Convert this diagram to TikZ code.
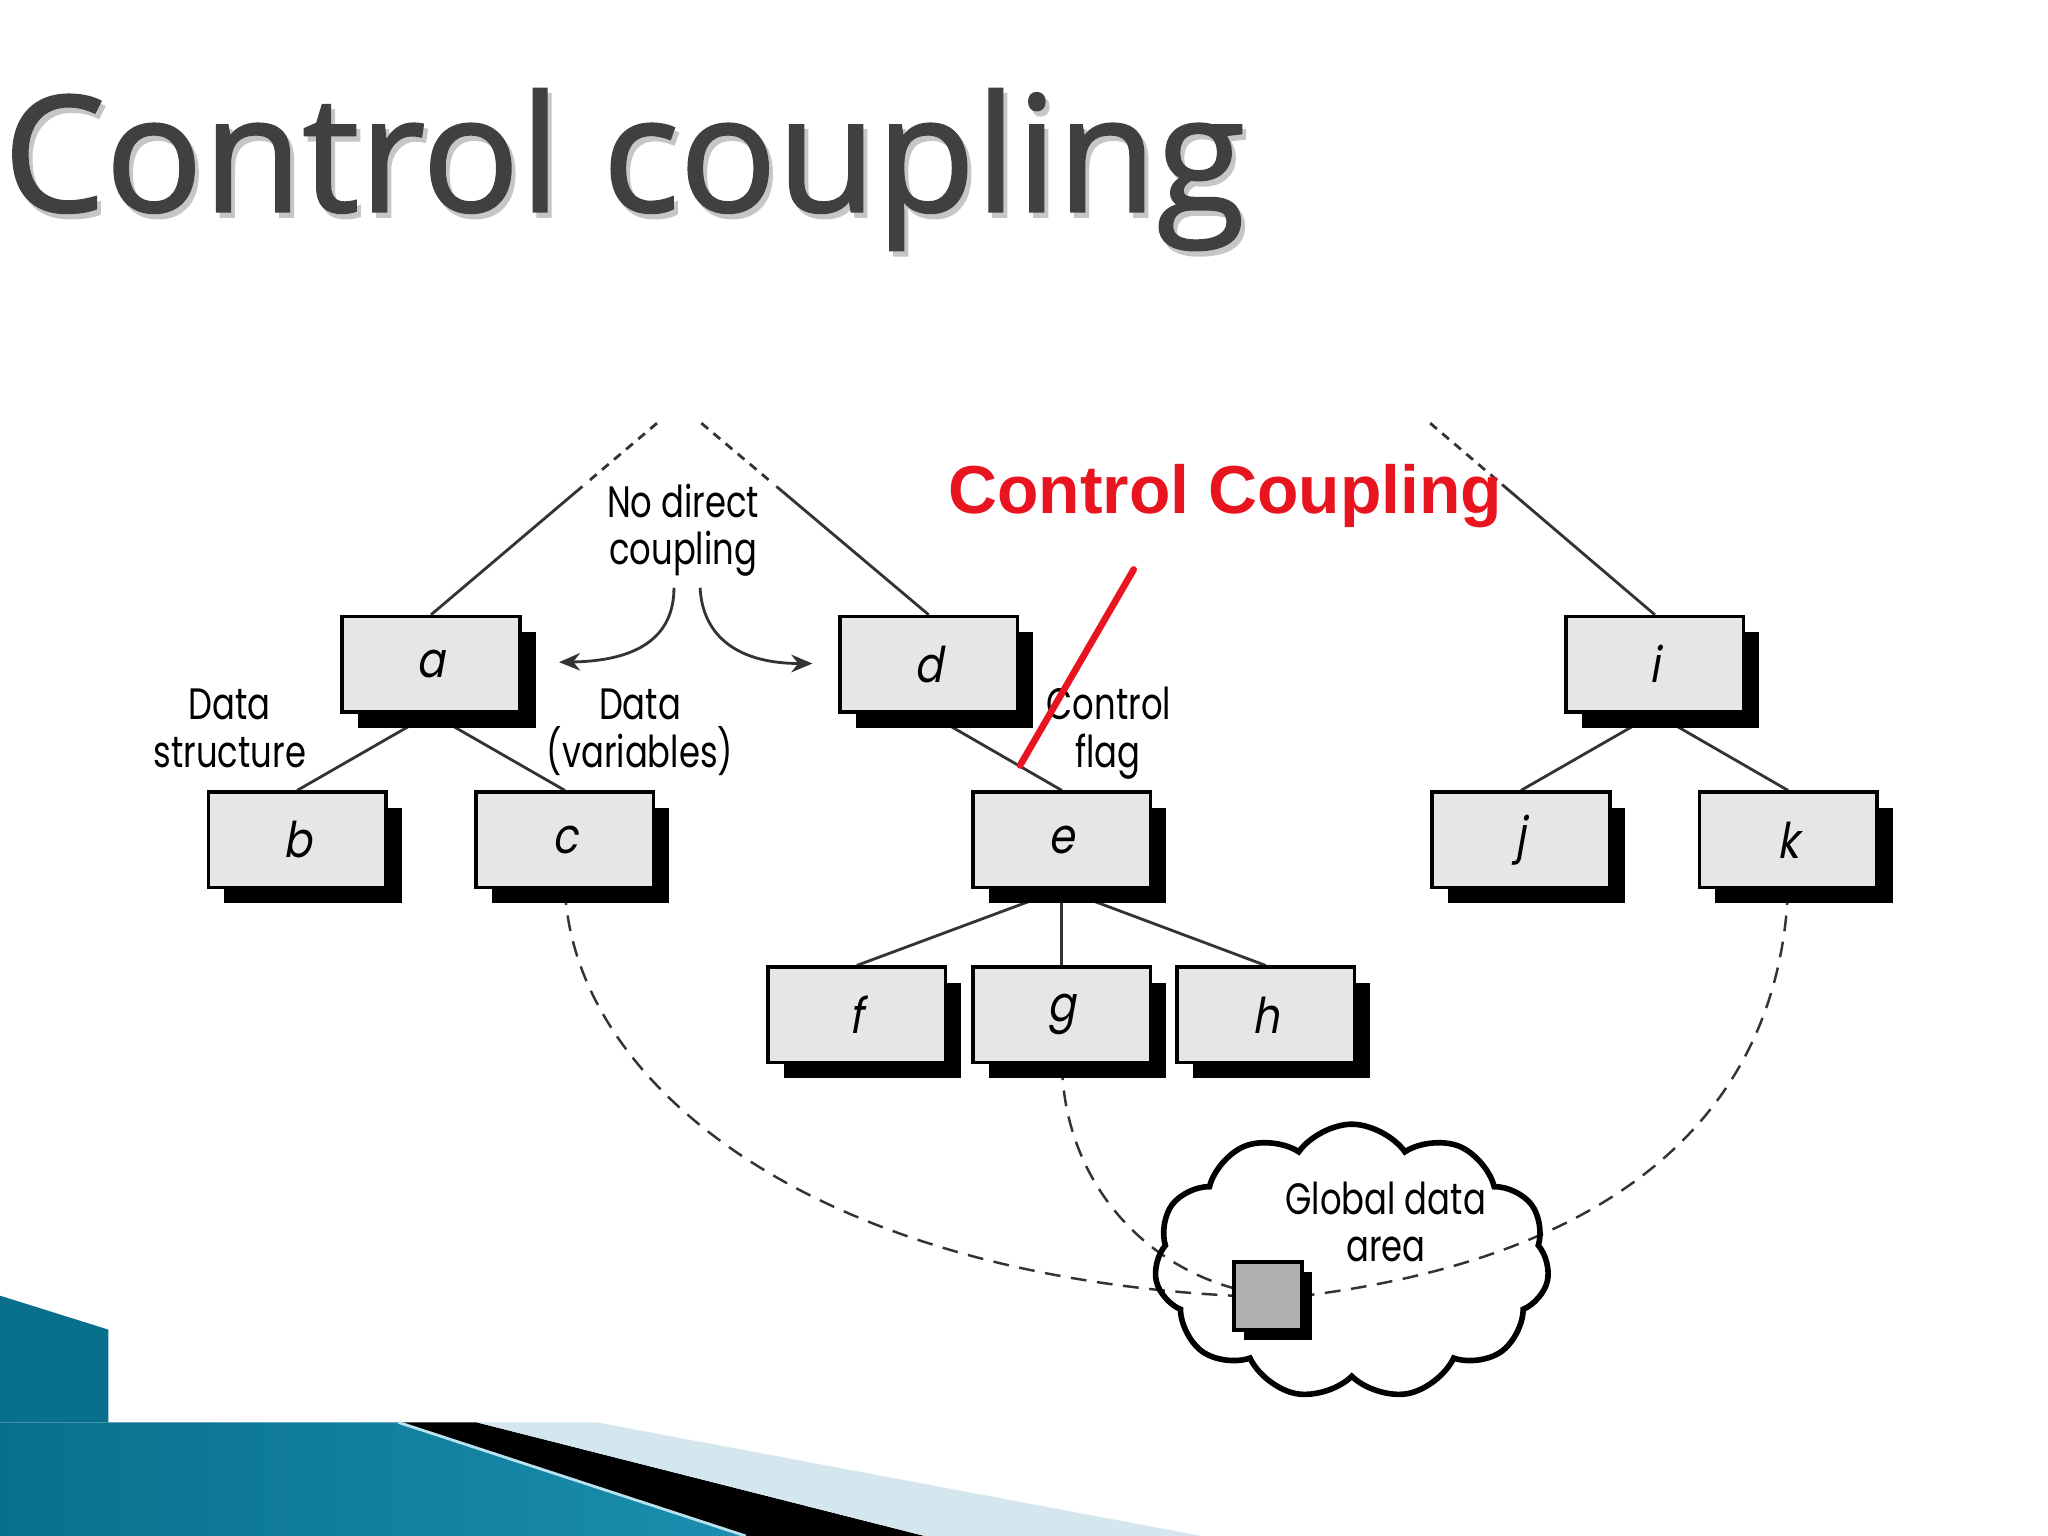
\documentclass[tikz,border=0pt]{standalone}
\usepackage{fontspec}
\usetikzlibrary{shapes.symbols,shadows,backgrounds,calc,arrows.meta}
\newfontfamily\lblfont{Poppins}[FakeStretch=0.77]
\newfontfamily\boxfont{Poppins}[FakeStretch=0.85,FakeSlant=0.18]
\newfontfamily\ttlfont{Open Sans}[FakeBold=1.3]
\newfontfamily\redfont{Liberation Sans}
\definecolor{boxgray}{HTML}{E6E6E6}
\definecolor{sqgray}{HTML}{B0B0B0}
\definecolor{linegray}{HTML}{333333}
\definecolor{ttlgray}{HTML}{404040}
\definecolor{redtxt}{HTML}{E8141F}
\definecolor{tealdark}{HTML}{08708C}
\definecolor{teallight}{HTML}{4FB3D5}
\definecolor{tealmid}{HTML}{1A8EAF}
\definecolor{lightband}{HTML}{D5E7EE}
\tikzset{
  modbox/.style={draw=black, line width=1pt, fill=boxgray, minimum width=1.776cm,
    minimum height=0.953cm, inner sep=0pt,
    drop shadow={shadow xshift=0.157cm, shadow yshift=-0.157cm, fill=black, opacity=1},
    font=\boxfont\fontsize{14}{16}\selectfont},
  conn/.style={draw=linegray, line width=0.8pt},
  topdash/.style={dash pattern=on 2.5pt off 2pt},
  gdash/.style={draw=linegray, line width=0.7pt, dash pattern=on 4.5pt off 3pt},
  lbl/.style={font=\lblfont\fontsize{12.5}{14}\selectfont, inner sep=0pt, anchor=base},
}
\begin{document}
\begin{tikzpicture}[x=0.013061cm,y=-0.013061cm]
\useasboundingbox (0,0) rectangle (1568,1176);

% bottom decoration
\fill[tealdark] (0,992) -- (83,1018) -- (83,1089) -- (0,1089) -- cycle;
\shade[left color=tealdark, middle color=teallight, right color=tealmid]
  (0,1089) -- (83,1089) -- (305,1089) -- (571,1176) -- (0,1176) -- cycle;
\fill[tealdark] (0,1060) rectangle (83,1089);
\fill[black] (305,1089) -- (365,1089) -- (708,1176) -- (571,1176) -- cycle;
\fill[lightband] (365,1089) -- (457,1089) -- (920,1176) -- (708,1176) -- cycle;
\draw[white!60!teallight, line width=0.8pt] (305,1089) -- (571,1176);

% title
\node[anchor=base west, inner sep=0pt, text=gray!45, font=\ttlfont\fontsize{46}{50}\selectfont] at (5,166) {Control coupling};
\node[anchor=base west, inner sep=0pt, text=ttlgray, font=\ttlfont\fontsize{46}{50}\selectfont] (title) at (2,162) {Control coupling};

% modules
\node[modbox] (a) at (330,508.5) {a};
\node[modbox] (d) at (711,508.5) {d};
\node[modbox] (i) at (1267,508.5) {i};
\node[modbox] (b) at (227.5,643) {b};
\node[modbox] (c) at (432.5,643) {c};
\node[modbox] (e) at (813,643) {e};
\node[modbox] (j) at (1164.5,643) {j};
\node[modbox] (k) at (1369,643) {k};
\node[modbox] (f) at (656,777) {f};
\node[modbox] (g) at (813,777) {g};
\node[modbox] (h) at (969,777) {h};

% global data area
\node[cloud, draw=black, line width=1.6pt, cloud puffs=11, cloud puff arc=110,
      minimum width=3.95cm, minimum height=2.75cm, inner sep=0pt] (cl) at (1035,966) {};
\node[draw=black, line width=1.1pt, fill=sqgray, minimum size=0.68cm, inner sep=0pt,
      drop shadow={shadow xshift=0.1cm, shadow yshift=-0.1cm, fill=black, opacity=1}] (sq) at (971,992) {};
\node[lbl] (gl1) at (1061,930) {Global data};
\node[lbl] (gl2) at (1061,966) {area};

% labels
\node[lbl] (nd1) at (523,396) {No direct};
\node[lbl] (nd2) at (523,432) {coupling};
\node[lbl] (ds1) at (176,551) {Data};
\node[lbl] (ds2) at (176,588) {structure};
\node[lbl] (dv1) at (490,551) {Data};
\node[lbl] (dv2) at (490,588) {(variables)};
\node[lbl] (cf1) at (849,551) {Control};
\node[lbl] (cf2) at (848,588) {flag};

% arrows
\coordinate (arl) at (428,507);
\coordinate (arr) at (622,508);
\draw[conn, -{Stealth[length=6pt,width=5pt]}] (516,450) .. controls (516,488) and (488,506) .. (arl);
\draw[conn, -{Stealth[length=6pt,width=5pt]}] (536,450) .. controls (538,488) and (566,508) .. (arr);

% red annotation
\node[anchor=base, inner sep=0pt, text=redtxt, font=\redfont\bfseries\fontsize{19.3}{22}\selectfont] (cc) at (938,393) {Control Coupling};
\coordinate (r1) at (868,436);
\coordinate (r2) at (781,586);
\draw[redtxt, line width=1.9pt, line cap=round] (r1) -- (r2);

\begin{pgfonlayer}{background}
\fill[white] (0,0) rectangle (1568,1176);
\coordinate (ta) at (503,324);
\coordinate (td) at (537,324);
\coordinate (ti) at (1095,324);
\draw[conn, topdash] (ta) -- ($(ta)!0.3!(a.north)$);
\draw[conn] ($(ta)!0.33!(a.north)$) -- (a.north);
\draw[conn, topdash] (td) -- ($(td)!0.3!(d.north)$);
\draw[conn] ($(td)!0.33!(d.north)$) -- (d.north);
\draw[conn, topdash] (ti) -- ($(ti)!0.32!(i.north)$);
\draw[conn] ($(ti)!0.32!(i.north)$) -- (i.north);
\draw[conn] (a.south) -- (b.north);
\draw[conn] (a.south) -- (c.north);
\draw[conn] (d.south) -- (e.north);
\draw[conn] (i.south) -- (j.north);
\draw[conn] (i.south) -- (k.north);
\draw[conn] (e.south) -- (f.north);
\draw[conn] (e.south) -- (g.north);
\draw[conn] (e.south) -- (h.north);
\draw[gdash] (c.south) .. controls (440,830) and (620,975) .. (sq.west);
\draw[gdash] (g.south) .. controls (815,900) and (870,965) .. ($(sq.west)+(0,-6)$);
\draw[gdash] (k.south) .. controls (1362,850) and (1240,962) .. (sq.east);
\end{pgfonlayer}
\end{tikzpicture}
\end{document}
